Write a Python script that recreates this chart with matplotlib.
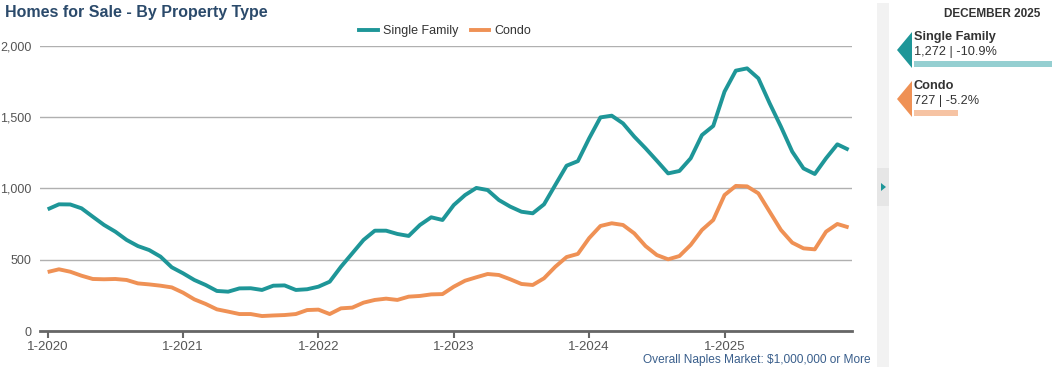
import matplotlib
matplotlib.use("Agg")
import matplotlib.pyplot as plt
from matplotlib.patches import Rectangle, Polygon
from matplotlib.lines import Line2D

plt.rcParams["font.family"] = ["Liberation Sans", "DejaVu Sans"]

# ---- data ----
months = [f"{m}-{y}" for y in range(2020, 2026) for m in range(1, 13)]
single_family = [
    854, 889, 888, 861, 802, 744, 697, 639, 596, 568, 522, 447,   # 2020
    405, 358, 323, 281, 276, 299, 300, 288, 318, 320, 288, 293,   # 2021
    311, 346, 451, 545, 639, 704, 704, 681, 667, 744, 798, 779,   # 2022
    884, 954, 1004, 989, 919, 873, 837, 826, 889, 1025, 1160, 1192,  # 2023
    1352, 1499, 1511, 1457, 1364, 1282, 1195, 1106, 1123, 1212, 1375, 1439,  # 2024
    1680, 1827, 1843, 1773, 1598, 1434, 1259, 1141, 1102, 1212, 1310, 1272,  # 2025
]
condo = [
    414, 433, 416, 388, 365, 363, 365, 358, 334, 327, 318, 306,   # 2020
    269, 222, 190, 152, 136, 119, 119, 105, 109, 112, 119, 147,   # 2021
    150, 119, 159, 164, 199, 218, 227, 218, 241, 246, 257, 259,   # 2022
    311, 353, 377, 400, 393, 363, 330, 323, 370, 451, 519, 541,   # 2023
    652, 737, 756, 744, 685, 596, 533, 503, 526, 604, 709, 779,   # 2024
    954, 1018, 1015, 966, 837, 709, 620, 580, 573, 697, 751, 727,  # 2025
]
series_names = ["Single Family", "Condo"]
xtick_labels = ["1-2020", "1-2021", "1-2022", "1-2023", "1-2024", "1-2025"]
yticks = [0, 500, 1000, 1500, 2000]
summary_title = "DECEMBER 2025"
summary_values = ["1,272 | -10.9%", "727 | -5.2%"]
summary_bar_px = [138, 44]

teal = "#1e9698"
orange = "#ef9155"
teal_light = "#95cfd1"
orange_light = "#f6c3a3"
title_col = "#2b4a6b"

W, H = 1052, 370
fig = plt.figure(figsize=(W / 100, H / 100), dpi=100)

def fx(px):
    return px / W

def fy(py):
    return 1 - py / H

ax = fig.add_axes([fx(40), fy(331), fx(852) - fx(40), fy(46) - fy(331)])
x = list(range(len(months)))
ax.plot(x, single_family, color=teal, lw=2.8, solid_capstyle="butt", solid_joinstyle="round", zorder=3)
ax.plot(x, condo, color=orange, lw=2.8, solid_capstyle="butt", solid_joinstyle="round", zorder=3)

ax.set_ylim(0, 2000)
ax.set_xlim(-0.68, 71.3)
ax.set_yticks(yticks)
ax.set_yticklabels([f"{v:,}" for v in yticks])
ax.set_xticks([months.index(l) for l in xtick_labels])
ax.set_xticklabels(xtick_labels)
ax.grid(axis="y", color="#b0b0b0", lw=1.0)
ax.set_axisbelow(True)
for s in ["top", "right", "left"]:
    ax.spines[s].set_visible(False)
ax.spines["bottom"].set_color("#666666")
ax.spines["bottom"].set_linewidth(2.0)
ax.tick_params(axis="y", length=0, labelsize=9, labelcolor="#555555", pad=6)
ax.tick_params(axis="x", length=5, width=1.5, color="#666666", labelsize=9.5, labelcolor="#555555", pad=2)

# legend
handles = [Line2D([0], [0], color=teal, lw=2.8), Line2D([0], [0], color=orange, lw=2.8)]
fig.legend(handles, series_names, loc="center", bbox_to_anchor=(fx(445), fy(31)), ncol=2,
           frameon=False, fontsize=9, handlelength=1.5, handletextpad=0.4, columnspacing=1.0,
           labelcolor="#333333")

# title
fig.text(fx(5), fy(13), "Homes for Sale - By Property Type", fontsize=11.5, fontweight="bold",
         color=title_col, va="center", ha="left")
# footnote
fig.text(fx(871), fy(360), "Overall Naples Market: $1,000,000 or More", fontsize=8.6,
         color="#3a5f8c", va="center", ha="right")

# right panel separator band
fig.patches.append(Rectangle((fx(877), fy(367)), fx(889) - fx(877), fy(3) - fy(367),
                             transform=fig.transFigure, facecolor="#f2f2f2", edgecolor="none"))
fig.patches.append(Rectangle((fx(877), fy(206)), fx(889) - fx(877), fy(168) - fy(206),
                             transform=fig.transFigure, facecolor="#e6e6e6", edgecolor="none"))
fig.patches.append(Polygon([(fx(881), fy(183)), (fx(886), fy(187)), (fx(881), fy(191))],
                           closed=True, transform=fig.transFigure, facecolor=teal, edgecolor="none"))

fig.text(fx(992), fy(14), summary_title, fontsize=8.5, fontweight="bold", color="#333333",
         ha="center", va="center")

cols = [teal, orange]
light_cols = [teal_light, orange_light]
tops = [32, 81]
for i in range(2):
    t = tops[i]
    fig.patches.append(Polygon([(fx(912), fy(t)), (fx(897), fy(t + 18)), (fx(912), fy(t + 36))],
                               closed=True, transform=fig.transFigure, facecolor=cols[i], edgecolor="none"))
    fig.text(fx(914), fy(t + 5), series_names[i], fontsize=9.2, fontweight="bold", color="#333333",
             ha="left", va="center")
    fig.text(fx(914), fy(t + 20), summary_values[i], fontsize=9.2, color="#333333",
             ha="left", va="center")
    bw = summary_bar_px[i]
    fig.patches.append(Rectangle((fx(914), fy(t + 35)), fx(914 + bw) - fx(914), fy(t + 29) - fy(t + 35),
                                 transform=fig.transFigure, facecolor=light_cols[i], edgecolor="none"))

fig.savefig("out.png", dpi=100)
